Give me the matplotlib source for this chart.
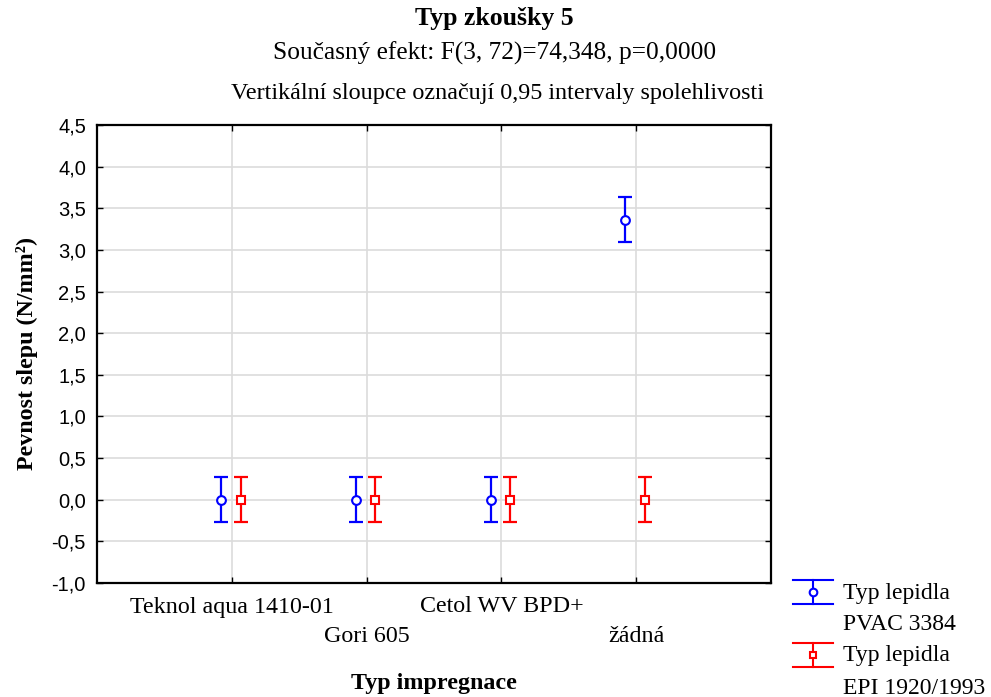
import matplotlib
matplotlib.use("Agg")
import matplotlib.pyplot as plt
import numpy as np
from matplotlib.lines import Line2D

categories = ["Teknol aqua 1410-01", "Gori 605", "Cetol WV BPD+", "žádná"]
pvac_mean = [0.0, 0.0, 0.0, 3.365]
pvac_ci = [0.27, 0.27, 0.27, 0.27]
epi_mean = [0.0, 0.0, 0.0, 0.0]
epi_ci = [0.27, 0.27, 0.27, 0.27]
series_labels = ["Typ lepidla\nPVAC 3384", "Typ lepidla\nEPI 1920/1993"]
yticks = np.arange(-1.0, 4.51, 0.5)

serif = "Liberation Serif"
sans = "Liberation Sans"
W, H = 991, 697
blue, red = "#0000ff", "#ff0000"


def fx(px):
    return px / W


def fy(py):
    return 1 - py / H


fig = plt.figure(figsize=(W / 100, H / 100), dpi=100)
ax = fig.add_axes([fx(97), fy(583), (771 - 97) / W, (583 - 125) / H])

x = np.arange(1, len(categories) + 1)
off_l, off_r = 0.08, 0.065
style = dict(fmt="none", capsize=5, elinewidth=1.6, capthick=1.6)
ax.errorbar(x - off_l, pvac_mean, yerr=pvac_ci, ecolor=blue, **style)
ax.errorbar(x + off_r, epi_mean, yerr=epi_ci, ecolor=red, **style)
ax.plot(x - off_l, pvac_mean, ls="none", marker="o", ms=6.3, mfc="white", mec=blue, mew=1.5)
ax.plot(x + off_r, epi_mean, ls="none", marker="s", ms=5.6, mfc="white", mec=red, mew=1.5)

ax.set_xlim(0, 5)
ax.set_ylim(-1.0, 4.5)
ax.set_yticks(yticks)
ax.set_yticklabels([f"{v:.1f}".replace(".", ",") for v in yticks], family=sans, fontsize=14.5)
ax.set_xticks(x)
ax.set_xticklabels([])
ax.grid(True, color="#dcdcdc", lw=1.2)
ax.set_axisbelow(True)
ax.tick_params(axis="both", which="both", direction="in", length=4, width=1,
               top=True, right=True)
ax.tick_params(axis="y", pad=8)
for s in ax.spines.values():
    s.set_linewidth(1.6)

# staggered category labels under the axis
for i, (xi, lab) in enumerate(zip(x, categories)):
    dy = -24 if i % 2 == 0 else -54
    ax.annotate(lab, (xi, -1.0), xytext=(0, dy), textcoords="offset pixels",
                ha="center", va="center", family=serif, fontsize=17.3,
                annotation_clip=False)

fig.text(fx(434), fy(683), "Typ impregnace", ha="center", va="center",
         family=serif, fontsize=17.3, fontweight="bold")
fig.text(fx(27), fy(353), "Pevnost slepu (N/mm²)", ha="center", va="center",
         rotation=90, family=serif, fontsize=17.3, fontweight="bold")

fig.text(fx(494), fy(18), "Typ zkoušky 5", ha="center", va="center",
         family=serif, fontsize=18.5, fontweight="bold")
fig.text(fx(495), fy(53), "Současný efekt: F(3, 72)=74,348, p=0,0000", ha="center",
         va="center", family=serif, fontsize=18.3)
fig.text(fx(497), fy(94), "Vertikální sloupce označují 0,95 intervaly spolehlivosti",
         ha="center", va="center", family=serif, fontsize=17.4)

# legend: I-beam key with marker, two-line label beside it
legend_keys = [(blue, "o", 5.5), (red, "s", 5.0)]
for k, ((col, mk, ms), lab) in enumerate(zip(legend_keys, series_labels)):
    yc = 592 + k * 63
    x0, x1 = 793, 833
    xm = (x0 + x1) / 2
    for yy in (yc - 12, yc + 12):
        fig.add_artist(Line2D([fx(x0), fx(x1)], [fy(yy), fy(yy)], color=col, lw=1.5))
    fig.add_artist(Line2D([fx(xm), fx(xm)], [fy(yc - 12), fy(yc + 12)], color=col, lw=1.5))
    fig.add_artist(Line2D([fx(xm)], [fy(yc)], ls="none", marker=mk, ms=ms, mfc="white",
                          mec=col, mew=1.5))
    first, second = lab.split("\n")
    fig.text(fx(843), fy(yc + 1), first, ha="left", va="center", family=serif, fontsize=17)
    fig.text(fx(843), fy(yc + 33), second, ha="left", va="center", family=serif, fontsize=17)

fig.savefig("out.png", dpi=100)
